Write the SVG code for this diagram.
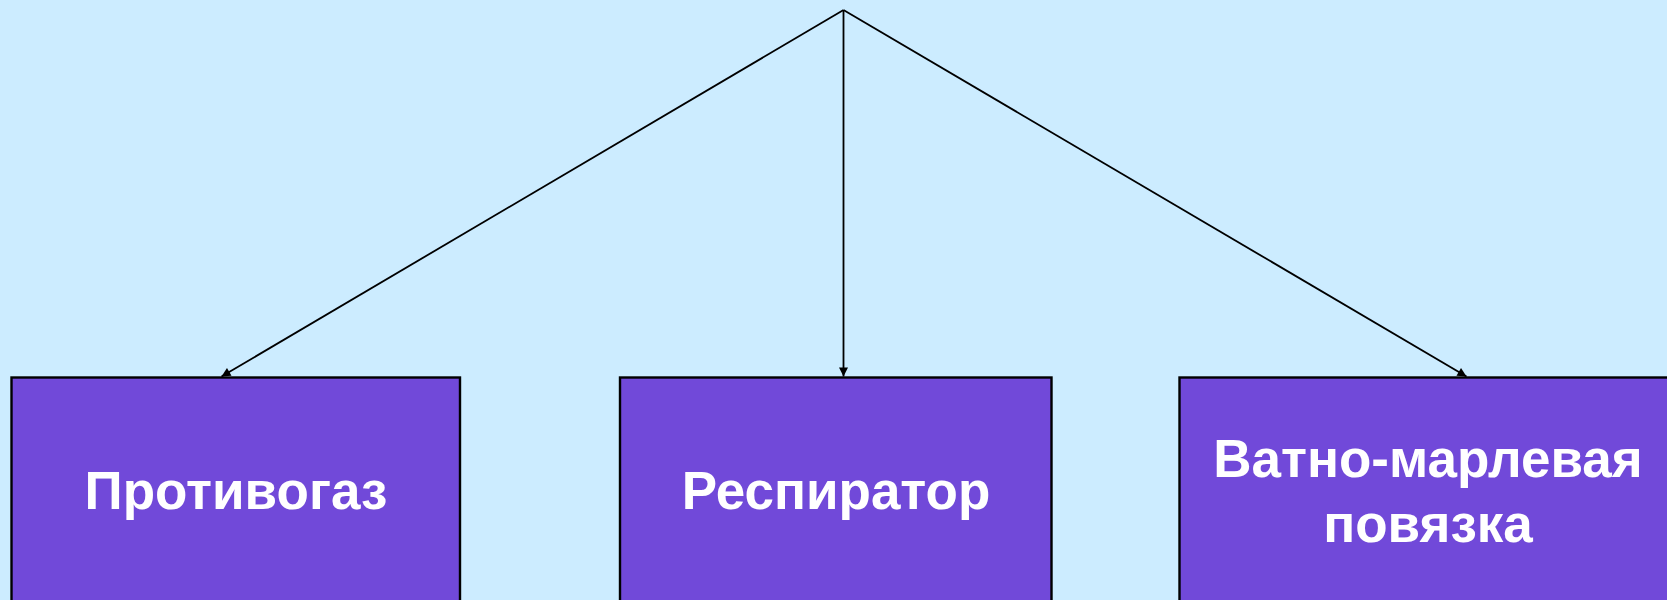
<svg xmlns="http://www.w3.org/2000/svg" width="1667" height="600" viewBox="0 0 1667 600">
<style>
.box{fill:#7149D9;stroke:#000;stroke-width:2.4}
.lbl{font-family:"Liberation Sans",Arial,sans-serif;font-weight:bold;font-size:53px;fill:#fff;text-anchor:middle}
.conn{stroke:#000;stroke-width:1.8;fill:none;marker-end:url(#ah)}
</style>
<defs>
<marker id="ah" viewBox="0 0 10 10" refX="10" refY="5" markerWidth="11" markerHeight="9" markerUnits="userSpaceOnUse" orient="auto">
<path d="M0,0 L10,5 L0,10 z" fill="#000"/>
</marker>
</defs>
<rect width="1667" height="600" fill="#CCECFF"/>
<g id="connectors">
<line class="conn" x1="843.5" y1="10" x2="221.5" y2="376.5"/>
<line class="conn" x1="843.5" y1="10" x2="843.5" y2="376.5"/>
<line class="conn" x1="843.5" y1="10" x2="1466.5" y2="376.5"/>
</g>
<g id="node-protivogaz">
<rect class="box" x="11.5" y="377.5" width="448.5" height="240"/>
<text class="lbl" x="236" y="509">Противогаз</text>
</g>
<g id="node-respirator">
<rect class="box" x="620" y="377.5" width="431.5" height="240"/>
<text class="lbl" x="836" y="509">Респиратор</text>
</g>
<g id="node-povyazka">
<rect class="box" x="1179.5" y="377.5" width="498" height="240"/>
<text class="lbl" x="1428" y="477">Ватно-марлевая</text>
<text class="lbl" x="1428" y="541.5">повязка</text>
</g>
</svg>
